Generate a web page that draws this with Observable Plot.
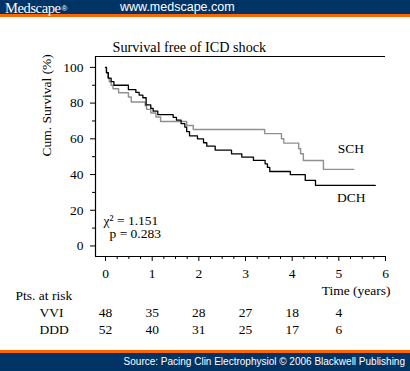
<!DOCTYPE html>
<html><head><meta charset="utf-8">
<script src="https://cdn.jsdelivr.net/npm/d3@7"></script>
<script src="https://cdn.jsdelivr.net/npm/@observablehq/plot@0.6"></script>
<style>
html,body{margin:0;padding:0;background:#fff;}
body{width:410px;height:371px;overflow:hidden;position:relative;}
#hdr{position:absolute;left:0;top:0;width:410px;height:14px;background:#003467;border-bottom:3px solid #ff6600;z-index:2;}
#logo{position:absolute;left:5px;top:1px;line-height:14px;font-family:"Liberation Serif",serif;font-size:14.5px;color:#fff;letter-spacing:-0.4px;white-space:nowrap;}
#logo sup{font-size:8px;line-height:8px;font-family:"Liberation Sans",sans-serif;vertical-align:2px;margin-left:1px;letter-spacing:0;}
#url{position:absolute;left:120px;top:1px;line-height:13px;font-family:"Liberation Sans",Arial,sans-serif;font-size:12.5px;color:#fff;white-space:nowrap;}
#ftr{position:absolute;left:0;top:350px;width:410px;height:18px;background:#003467;border-top:3px solid #ff6600;z-index:2;}
#src{position:absolute;right:5px;top:3px;font-family:"Liberation Sans",Arial,sans-serif;font-size:10px;color:#fff;white-space:nowrap;}
#chart{position:absolute;left:0;top:0;}
</style>
</head><body>
<div id="hdr"><span id="logo">Medscape<sup>®</sup></span><span id="url">www.medscape.com</span></div>
<div id="chart"></div>
<div id="ftr"><span id="src">Source: Pacing Clin Electrophysiol © 2006 Blackwell Publishing</span></div>
<script>
// ---- data ----
const title = "Survival free of ICD shock";
const yLabel = "Cum. Survival (%)";
const xLabel = "Time (years)";
const statLines = ["\u03c7\u00b2 = 1.151", "p = 0.283"];
const seriesNames = ["SCH", "DCH"];

// DCH (black) Kaplan-Meier steps: time (years), survival (%)
const dchTime = [0, 0.02, 0.06, 0.12, 0.18, 0.49, 0.65, 0.72, 0.80, 0.87, 0.97, 1.02, 1.12, 1.45, 1.52, 1.62, 1.70, 1.74, 1.80, 1.97, 2.10, 2.17, 2.35, 2.70, 2.92, 3.17, 3.42, 3.47, 3.52, 3.96, 4.28, 4.50, 5.78];
const dchSurv = [100, 97, 94, 92, 90, 87.5, 86, 84.5, 83, 79, 77, 75.5, 73.5, 72, 70.5, 68.5, 66.5, 64, 61.7, 60, 57.8, 55.9, 53.7, 51.6, 49.8, 47.9, 46, 44, 41.7, 39.9, 36.7, 33.9, 33.9];

// SCH (grey) Kaplan-Meier steps
const schTime = [0, 0.02, 0.05, 0.08, 0.12, 0.16, 0.28, 0.49, 0.55, 0.85, 0.88, 0.97, 1.08, 1.18, 1.74, 1.88, 3.41, 3.77, 3.82, 4.14, 4.18, 4.24, 4.67, 5.32];
const schSurv = [100, 97, 94, 92, 90, 88, 85.8, 83.4, 80.6, 78.5, 76.5, 74.5, 72.2, 69.7, 67.5, 65.2, 62.9, 60, 57.6, 54.4, 51.6, 47.9, 42.9, 42.9];

const yTicks = [0, 20, 40, 60, 80, 100];
const xTicks = [0, 1, 2, 3, 4, 5, 6];
const riskTimes = [0, 1, 2, 3, 4, 5];
const riskRowLabels = ["VVI", "DDD"];
const riskVVI = ["48", "35", "28", "27", "18", "4"];
const riskDDD = ["52", "40", "31", "25", "17", "6"];
const riskTitle = "Pts. at risk";

// ---- build ----
const dch = dchTime.map((t, i) => ({t, s: dchSurv[i]}));
const sch = schTime.map((t, i) => ({t, s: schSurv[i]}));
const xMinor = d3.range(0, 6.001, 0.25).filter(v => !xTicks.includes(v));
const yMinor = d3.range(10, 100, 20);
const xDom = [-0.215, 6.0];
const yDom = [-5.9, 106.1];
const font = "'Liberation Serif', 'Times New Roman', serif";
const fs = 13.5;

const chart = Plot.plot({
  width: 410, height: 371,
  marginLeft: 95, marginRight: 25, marginTop: 56, marginBottom: 115,
  x: {domain: xDom},
  y: {domain: yDom},
  style: {fontFamily: font, fontSize: fs + "px", background: "transparent", color: "#000", overflow: "visible"},
  marks: [
    Plot.ruleX([xDom[0]], {stroke: "#000", strokeWidth: 1.2}),
    Plot.ruleY([yDom[1]], {stroke: "#000", strokeWidth: 1.2}),
    Plot.ruleY([yDom[0]], {stroke: "#000", strokeWidth: 1.2}),
    Plot.axisY(yTicks, {tickSize: 5, tickPadding: 7, label: null, fontSize: fs}),
    Plot.axisY(yMinor, {tickSize: 3, text: null, label: null}),
    Plot.axisX(xTicks, {tickSize: 5, tickPadding: 7, label: null, fontSize: fs}),
    Plot.axisX(xMinor, {tickSize: 3, text: null, label: null}),
    Plot.line(sch, {x: "t", y: "s", curve: "step-after", stroke: "#8f8f8f", strokeWidth: 1.4}),
    Plot.line(dch, {x: "t", y: "s", curve: "step-after", stroke: "#000", strokeWidth: 1.3}),
    Plot.text([sch[sch.length - 1]], {x: "t", y: "s", text: () => seriesNames[0], dx: -3, dy: -21, fontSize: fs}),
    Plot.text([dch[dch.length - 1]], {x: "t", y: "s", text: () => seriesNames[1], dx: -24, dy: 12, fontSize: fs}),
    Plot.text([title], {frameAnchor: "top-left", dx: 17, dy: -15, textAnchor: "start", fontSize: 14.2}),
    Plot.text([yLabel], {frameAnchor: "left", dx: -49, rotate: -90, fontSize: fs}),
    Plot.text([statLines[0]], {frameAnchor: "bottom-left", dx: 8, dy: -32, textAnchor: "start", fontSize: fs}),
    Plot.text([statLines[1]], {frameAnchor: "bottom-left", dx: 14, dy: -18.5, textAnchor: "start", fontSize: fs}),
    Plot.text([xLabel], {frameAnchor: "bottom-right", dx: 5, dy: 38.5, textAnchor: "end", fontSize: fs}),
    Plot.text([riskTitle], {frameAnchor: "bottom-left", dx: -80, dy: 43, textAnchor: "start", fontSize: fs}),
    Plot.text([riskRowLabels[0]], {frameAnchor: "bottom-left", dx: -56, dy: 60, fontSize: fs}),
    Plot.text([riskRowLabels[1]], {frameAnchor: "bottom-left", dx: -56, dy: 77, fontSize: fs}),
    Plot.text(riskTimes, {x: d => d, text: (d, i) => riskVVI[i], frameAnchor: "bottom", dy: 60, fontSize: fs, fill: "#000"}),
    Plot.text(riskTimes, {x: d => d, text: (d, i) => riskDDD[i], frameAnchor: "bottom", dy: 77, fontSize: fs, fill: "#000"})
  ]
});
document.getElementById("chart").appendChild(chart);
</script>
</body></html>
